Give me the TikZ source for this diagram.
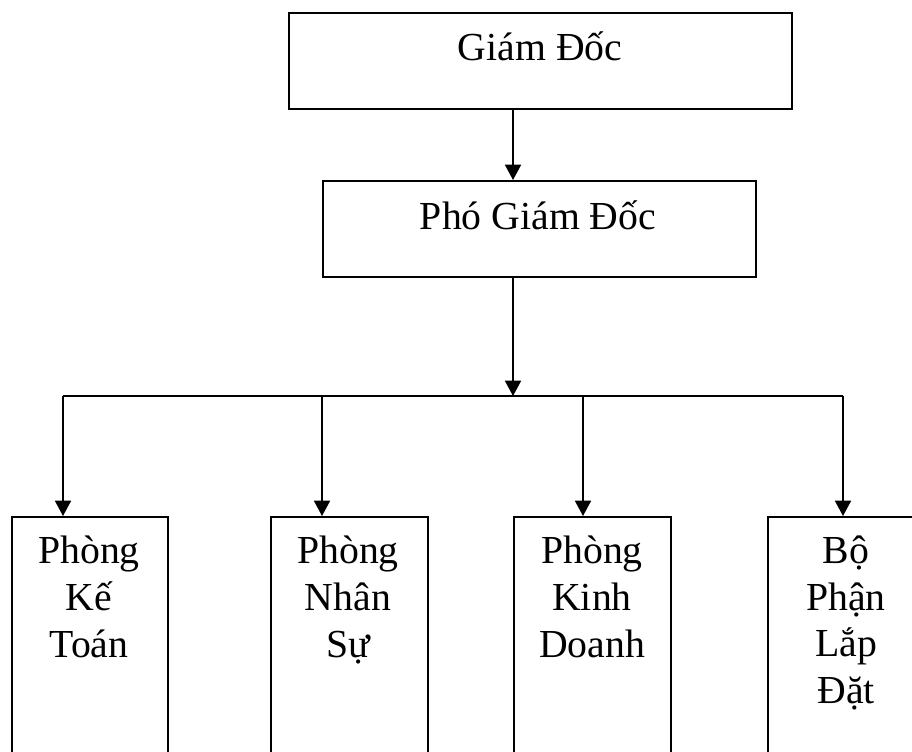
\documentclass[tikz,border=0pt]{standalone}
\usepackage{fontspec}
\setmainfont{Liberation Serif}
\usetikzlibrary{arrows.meta}

\begin{document}
\begin{tikzpicture}[x=0.75pt, y=-0.75pt,
    box/.style = {draw, line width=1.3pt, anchor=north west, inner sep=0pt},
    lbl/.style = {font=\fontsize{29.8}{34.9}\selectfont, inner sep=0pt, anchor=base, align=center},
    arr/.style = {line width=1.3pt, -{Triangle[width=12pt, length=11.5pt]}},
    wire/.style = {line width=1.3pt}]
  \path [use as bounding box, clip] (0, 0) rectangle (912, 751);

  % top two levels
  \node [box, minimum width=377.25pt, minimum height=72pt] (gd) at (288, 12) {};
  \node [box, minimum width=324.75pt, minimum height=72pt] (pgd) at (322, 180) {};
  \node [lbl] (gdtext) at (540, 60) {Giám Đốc};
  \node [lbl] (pgdtext) at (538, 229) {Phó Giám Đốc};

  % departments (base = last line)
  \node [box, minimum width=117pt, minimum height=240pt] (kt) at (11, 516) {};
  \node [box, minimum width=117.75pt, minimum height=240pt] (ns) at (270, 516) {};
  \node [box, minimum width=117.75pt, minimum height=240pt] (kd) at (513, 516) {};
  \node [box, minimum width=117.75pt, minimum height=240pt] (ld) at (767, 516) {};
  \node [lbl] (kttext) at (89, 657) {Phòng\\Kế\\Toán};
  \node [lbl] (nstext) at (348, 657) {Phòng\\Nhân\\Sự};
  \node [lbl] (kdtext) at (592, 657) {Phòng\\Kinh\\Doanh};
  \node [lbl] (ldtext) at (846, 703.5) {Bộ\\Phận\\Lắp\\Đặt};

  % connectors
  \coordinate (spine) at (513, 0);
  \coordinate (bus) at (513, 396);
  \coordinate (in1) at (63, 516);
  \coordinate (in2) at (322, 516);
  \coordinate (in3) at (583, 516);
  \coordinate (in4) at (843, 516);
  \draw [arr] (gd.south -| spine) -- (pgd.north -| spine);
  \draw [arr] (pgd.south -| spine) -- (bus);
  \draw [wire] (in1 |- bus) -- (in4 |- bus);
  \foreach \i in {1, ..., 4}
    \draw [arr] (in\i |- bus) -- (in\i);
\end{tikzpicture}
\end{document}
